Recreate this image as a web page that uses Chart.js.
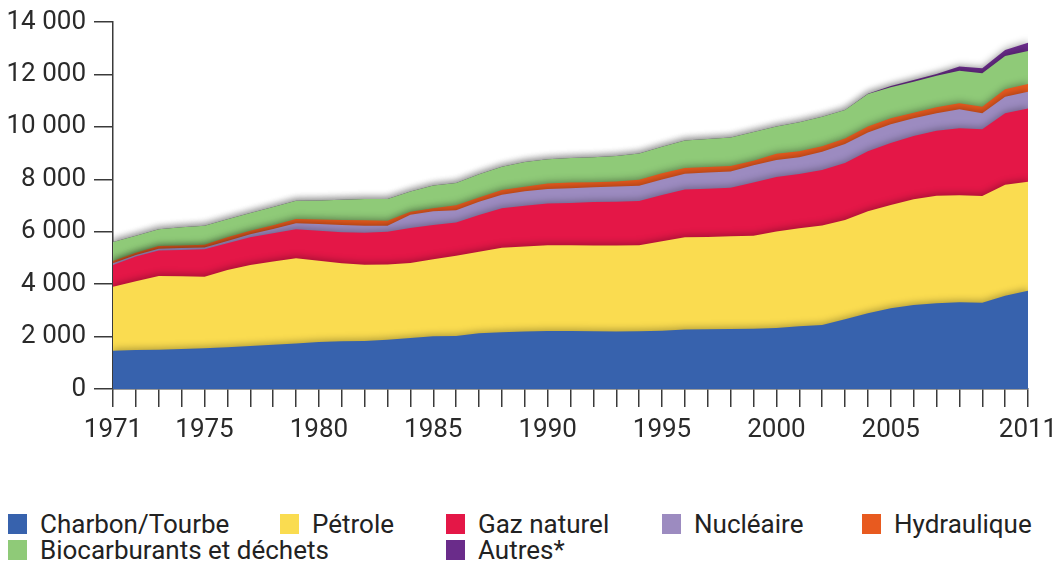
<!DOCTYPE html>
<html>
<head>
<meta charset="utf-8">
<script src="https://cdn.jsdelivr.net/npm/chart.js@4"></script>
<style>
  body { margin: 0; background: #fff; font-family: Roboto, sans-serif; }
  #wrap { position: relative; width: 1054px; height: 562px; }
  #chart { position: absolute; left: 0; top: 0; }
  .item { position: absolute; display: flex; align-items: center; font-size: 26px; color: #222; height: 24px; white-space: nowrap; }
  .sw { width: 19px; height: 20px; margin-right: 13px; }
</style>
</head>
<body>
<div id="wrap">
  <canvas id="chart" width="1054" height="470"></canvas>
  <div id="legend"></div>
</div>
<script>
// Years and labels shown on the x axis
const years = [];
for (let y = 1971; y <= 2011; y++) years.push(y);
const shownYears = [1971, 1975, 1980, 1985, 1990, 1995, 2000, 2005, 2011];
const yTicks = [0, 2000, 4000, 6000, 8000, 10000, 12000, 14000];

// Series values (Mtep)
const charbon = [1460,1490,1500,1525,1550,1590,1640,1690,1740,1790,1820,1830,1880,1950,2010,2020,2125,2165,2190,2215,
                 2215,2200,2190,2205,2225,2265,2275,2290,2295,2330,2390,2440,2660,2885,3080,3205,3275,3305,3290,3560,3745];
const petrole = [2440,2620,2810,2775,2735,2950,3090,3170,3245,3105,2980,2910,2865,2860,2935,3065,3115,3220,3250,3270,
                 3265,3275,3285,3275,3415,3520,3525,3535,3555,3680,3740,3800,3790,3900,3940,4030,4100,4085,4075,4235,4160];
const gaz = [830,940,970,1000,1045,1020,1055,1080,1105,1145,1180,1225,1250,1330,1310,1265,1400,1510,1555,1590,
             1615,1660,1670,1690,1760,1830,1835,1850,2025,2080,2070,2115,2170,2285,2365,2420,2475,2560,2540,2720,2800];
const nucleaire = [65,60,70,80,65,90,115,165,230,255,280,260,235,510,525,465,500,515,545,550,
                   565,560,580,585,590,595,620,625,660,650,640,695,725,710,710,670,670,720,610,635,635];
const hydraulique = [90,90,105,90,110,140,140,140,165,175,190,210,190,110,115,195,165,180,180,210,
                     215,195,195,230,240,220,210,205,175,235,230,210,215,230,230,215,230,230,255,280,295];
const biocarburants = [725,650,640,700,725,685,675,700,700,725,770,810,830,770,870,850,890,890,935,925,
                       935,950,970,1000,1015,1045,1070,1090,1090,1035,1110,1130,1080,1245,1185,1180,1195,1245,1275,1270,1260];
const autres = [0,0,0,0,0,0,0,0,0,0,0,0,0,0,0,0,0,0,0,0,
                0,0,0,0,0,0,0,0,0,0,0,0,0,10,50,65,75,155,190,230,315];

const names = ["Charbon/Tourbe", "Pétrole", "Gaz naturel", "Nucléaire", "Hydraulique", "Biocarburants et déchets", "Autres*"];
const colors = ["#3762ad", "#fadc50", "#e41747", "#9c8bc0", "#e85a1f", "#8fca78", "#6a2c8a"];
const series = [charbon, petrole, gaz, nucleaire, hydraulique, biocarburants, autres];

// soft shadow under each band (upward), like the printed chart
const bandShadow = {
  id: "bandShadow",
  beforeDatasetsDraw(chart) {
    const ctx = chart.ctx;
    ctx.save();
    ctx.shadowColor = "rgba(0,0,0,0.28)";
    ctx.shadowBlur = 7;
    ctx.shadowOffsetY = -2;
  },
  afterDatasetsDraw(chart) {
    chart.ctx.restore();
  }
};

const fmt = v => String(v).replace(/\B(?=(\d{3})+(?!\d))/g, " ");
const axisColor = "#3a3a3a";

new Chart(document.getElementById("chart").getContext("2d"), {
  type: "line",
  data: {
    labels: years,
    datasets: series.map((d, i) => ({
      label: names[i],
      data: d,
      backgroundColor: colors[i],
      borderWidth: 0,
      pointRadius: 0,
      fill: "origin",
      tension: 0
    }))
  },
  options: {
    responsive: false,
    animation: false,
    events: [],
    layout: { padding: { top: 22, right: 26, left: 0, bottom: 0 } },
    plugins: { legend: { display: false }, tooltip: { enabled: false } },
    scales: {
      x: {
        grid: { drawOnChartArea: false, tickLength: 18, color: axisColor, lineWidth: 1.5 },
        border: { color: axisColor, width: 1.5 },
        ticks: {
          autoSkip: false, maxRotation: 0, padding: 8,
          color: "#2a2a2a", font: { size: 26, family: "Roboto" },
          callback: (v, i) => shownYears.includes(years[i]) ? String(years[i]) : ""
        },
        afterFit: s => { s.height = 81; s.paddingLeft = 0; s.paddingRight = 0; }
      },
      y: {
        stacked: true,
        min: 0, max: 14000,
        grid: { drawOnChartArea: false, tickLength: 19, color: axisColor, lineWidth: 1.5 },
        border: { color: axisColor, width: 1.5 },
        afterBuildTicks: s => { s.ticks = yTicks.map(v => ({ value: v })); },
        ticks: {
          padding: 8, color: "#2a2a2a", font: { size: 26, family: "Roboto" },
          callback: v => fmt(v)
        },
        afterFit: s => { s.width = 113; s.paddingTop = 0; s.paddingBottom = 0; }
      }
    }
  },
  plugins: [bandShadow]
});

// HTML legend laid out in columns like the original
const legendPos = [[8, 512], [280, 512], [446, 512], [662, 512], [862, 512], [8, 538], [446, 538]];
const legend = document.getElementById("legend");
names.forEach((n, i) => {
  const el = document.createElement("div");
  el.className = "item";
  el.style.left = legendPos[i][0] + "px";
  el.style.top = legendPos[i][1] + "px";
  el.innerHTML = '<span class="sw" style="background:' + colors[i] + '"></span>' + n;
  legend.appendChild(el);
});
</script>
</body>
</html>
